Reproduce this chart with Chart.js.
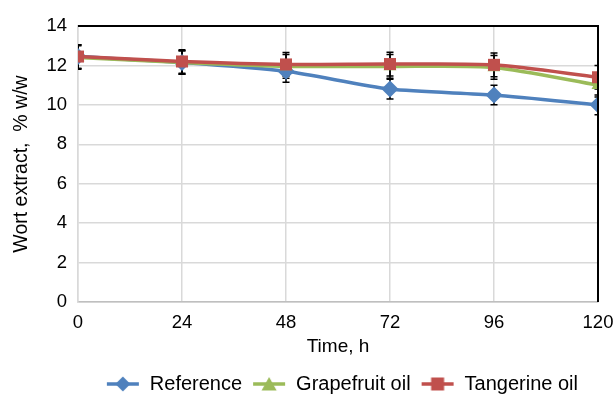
<!DOCTYPE html>
<html>
<head>
<meta charset="utf-8">
<script src="https://cdn.jsdelivr.net/npm/chart.js@4"></script>
<style>
  html, body { margin: 0; padding: 0; background: #fff; }
  #wrap { width: 616px; height: 395px; }
</style>
</head>
<body>
<div id="wrap"><canvas id="c" width="616" height="395"></canvas></div>
<script>
// Fermentation time, h
const hours = [0, 24, 48, 72, 96, 120];

// Wort extract, % w/w
const referenceValues = [12.45, 12.15, 11.7, 10.8, 10.5, 10.0];
const grapefruitValues = [12.4, 12.15, 11.95, 11.95, 11.9, 11.0];
const tangerineValues = [12.45, 12.2, 12.05, 12.07, 12.03, 11.4];

// Standard deviations
const referenceErrors = [0.6, 0.6, 0.55, 0.5, 0.5, 0.5];
const grapefruitErrors = [0.6, 0.6, 0.6, 0.6, 0.6, 0.6];
const tangerineErrors = [0.6, 0.6, 0.6, 0.6, 0.6, 0.6];

const seriesNames = ['Reference', 'Grapefruit oil', 'Tangerine oil'];
const yTicks = [0, 2, 4, 6, 8, 10, 12, 14];

const FONT = "'Liberation Sans', Arial, sans-serif";
const BLUE = '#4F81BD', GREEN = '#9BBB59', RED = '#C0504D';

// line-with-marker swatch for the legend
function legendIcon(color, style) {
  const c = document.createElement('canvas');
  c.width = 34; c.height = 18;
  const g = c.getContext('2d');
  g.strokeStyle = color; g.lineWidth = 3.5;
  g.beginPath(); g.moveTo(1, 9); g.lineTo(33, 9); g.stroke();
  g.fillStyle = color;
  g.beginPath();
  if (style === 'rectRot') { g.moveTo(17, 1.5); g.lineTo(24.5, 9); g.lineTo(17, 16.5); g.lineTo(9.5, 9); }
  else if (style === 'triangle') { g.moveTo(17, 2); g.lineTo(24.5, 15.5); g.lineTo(9.5, 15.5); }
  else { g.rect(10.5, 2.5, 13, 13); }
  g.closePath(); g.fill();
  return c;
}

const errorBars = {
  id: 'errorBars',
  afterLayout(chart) {
    // nudge the legend row a little to the left of the right edge
    if (chart.legend) { chart.legend.left -= 10; chart.legend.right -= 10; }
  },
  beforeDatasetsDraw(chart) {
    const { ctx, chartArea, scales } = chart;
    ctx.save();
    ctx.beginPath();
    ctx.rect(chartArea.left, chartArea.top, chartArea.right - chartArea.left, chartArea.bottom - chartArea.top);
    ctx.clip();
    ctx.strokeStyle = '#000';
    ctx.lineWidth = 1.5;
    chart.data.datasets.forEach(ds => {
      ds.data.forEach((p, i) => {
        const e = ds.errors[i];
        const x = scales.x.getPixelForValue(p.x);
        const y1 = scales.y.getPixelForValue(p.y + e);
        const y2 = scales.y.getPixelForValue(p.y - e);
        ctx.beginPath();
        ctx.moveTo(x, y1); ctx.lineTo(x, y2);
        ctx.moveTo(x - 3.5, y1); ctx.lineTo(x + 3.5, y1);
        ctx.moveTo(x - 3.5, y2); ctx.lineTo(x + 3.5, y2);
        ctx.stroke();
      });
    });
    ctx.restore();
  },
  afterDraw(chart) {
    // dark frame on top and right of the plot area
    const { ctx, chartArea } = chart;
    ctx.save();
    ctx.strokeStyle = '#000';
    ctx.lineWidth = 2;
    ctx.beginPath();
    ctx.moveTo(chartArea.left, chartArea.top);
    ctx.lineTo(chartArea.right, chartArea.top);
    ctx.lineTo(chartArea.right, chartArea.bottom);
    ctx.stroke();
    ctx.restore();
  }
};

function series(name, values, errors, color, style, radius, order) {
  return {
    label: name,
    data: hours.map((h, i) => ({ x: h, y: values[i] })),
    errors: errors,
    borderColor: color,
    backgroundColor: color,
    borderWidth: 3.5,
    pointStyle: style,
    pointRadius: radius,
    pointHoverRadius: radius,
    pointBorderWidth: 0,
    tension: 0.25,
    order: order,
    icon: legendIcon(color, style)
  };
}

const datasets = [
  series(seriesNames[0], referenceValues, referenceErrors, BLUE, 'rectRot', 8.5, 3),
  series(seriesNames[1], grapefruitValues, grapefruitErrors, GREEN, 'triangle', 7.5, 2),
  series(seriesNames[2], tangerineValues, tangerineErrors, RED, 'rect', 8.5, 1)
];

new Chart(document.getElementById('c'), {
  type: 'line',
  data: { datasets },
  plugins: [errorBars],
  options: {
    responsive: false,
    animation: false,
    layout: { padding: { top: 26, right: 18, left: 0, bottom: -9 } },
    plugins: {
      tooltip: { enabled: false },
      legend: {
        position: 'bottom',
        align: 'end',
        labels: {
          usePointStyle: true,
          pointStyleWidth: 34,
          boxHeight: 18,
          padding: 10,
          color: '#000',
          font: { family: FONT, size: 20 },
          generateLabels(chart) {
            return chart.data.datasets.map((ds, i) => ({
              text: ds.label,
              pointStyle: ds.icon,
              fillStyle: ds.borderColor,
              strokeStyle: ds.borderColor,
              lineWidth: 0,
              datasetIndex: i,
              hidden: false,
              fontColor: '#000'
            }));
          }
        }
      }
    },
    scales: {
      x: {
        type: 'linear',
        min: 0, max: 120,
        afterBuildTicks(s) { s.ticks = hours.map(v => ({ value: v })); },
        ticks: { color: '#000', font: { family: FONT, size: 18.5 }, padding: 10, maxRotation: 0 },
        grid: { color: '#D9D9D9', lineWidth: 1.5, drawTicks: false },
        border: { color: '#BFBFBF', width: 1.5 },
        title: { display: true, text: 'Time, h', color: '#000', font: { family: FONT, size: 19 }, padding: { top: 2, bottom: 6 } },
        afterFit(s) { s.height = 62; s.paddingLeft = 0; s.paddingRight = 0; }
      },
      y: {
        min: 0, max: 14,
        afterBuildTicks(s) { s.ticks = yTicks.map(v => ({ value: v })); },
        ticks: { color: '#000', font: { family: FONT, size: 18.5 }, padding: 11 },
        grid: { color: '#D9D9D9', lineWidth: 1.5, drawTicks: false },
        border: { color: '#D9D9D9', width: 1.5 },
        title: { display: true, text: 'Wort extract,  % w/w', color: '#000', font: { family: FONT, size: 19.5 }, padding: { top: 10, bottom: 8 } },
        afterFit(s) { s.width = 78; }
      }
    }
  }
});
</script>
</body>
</html>
